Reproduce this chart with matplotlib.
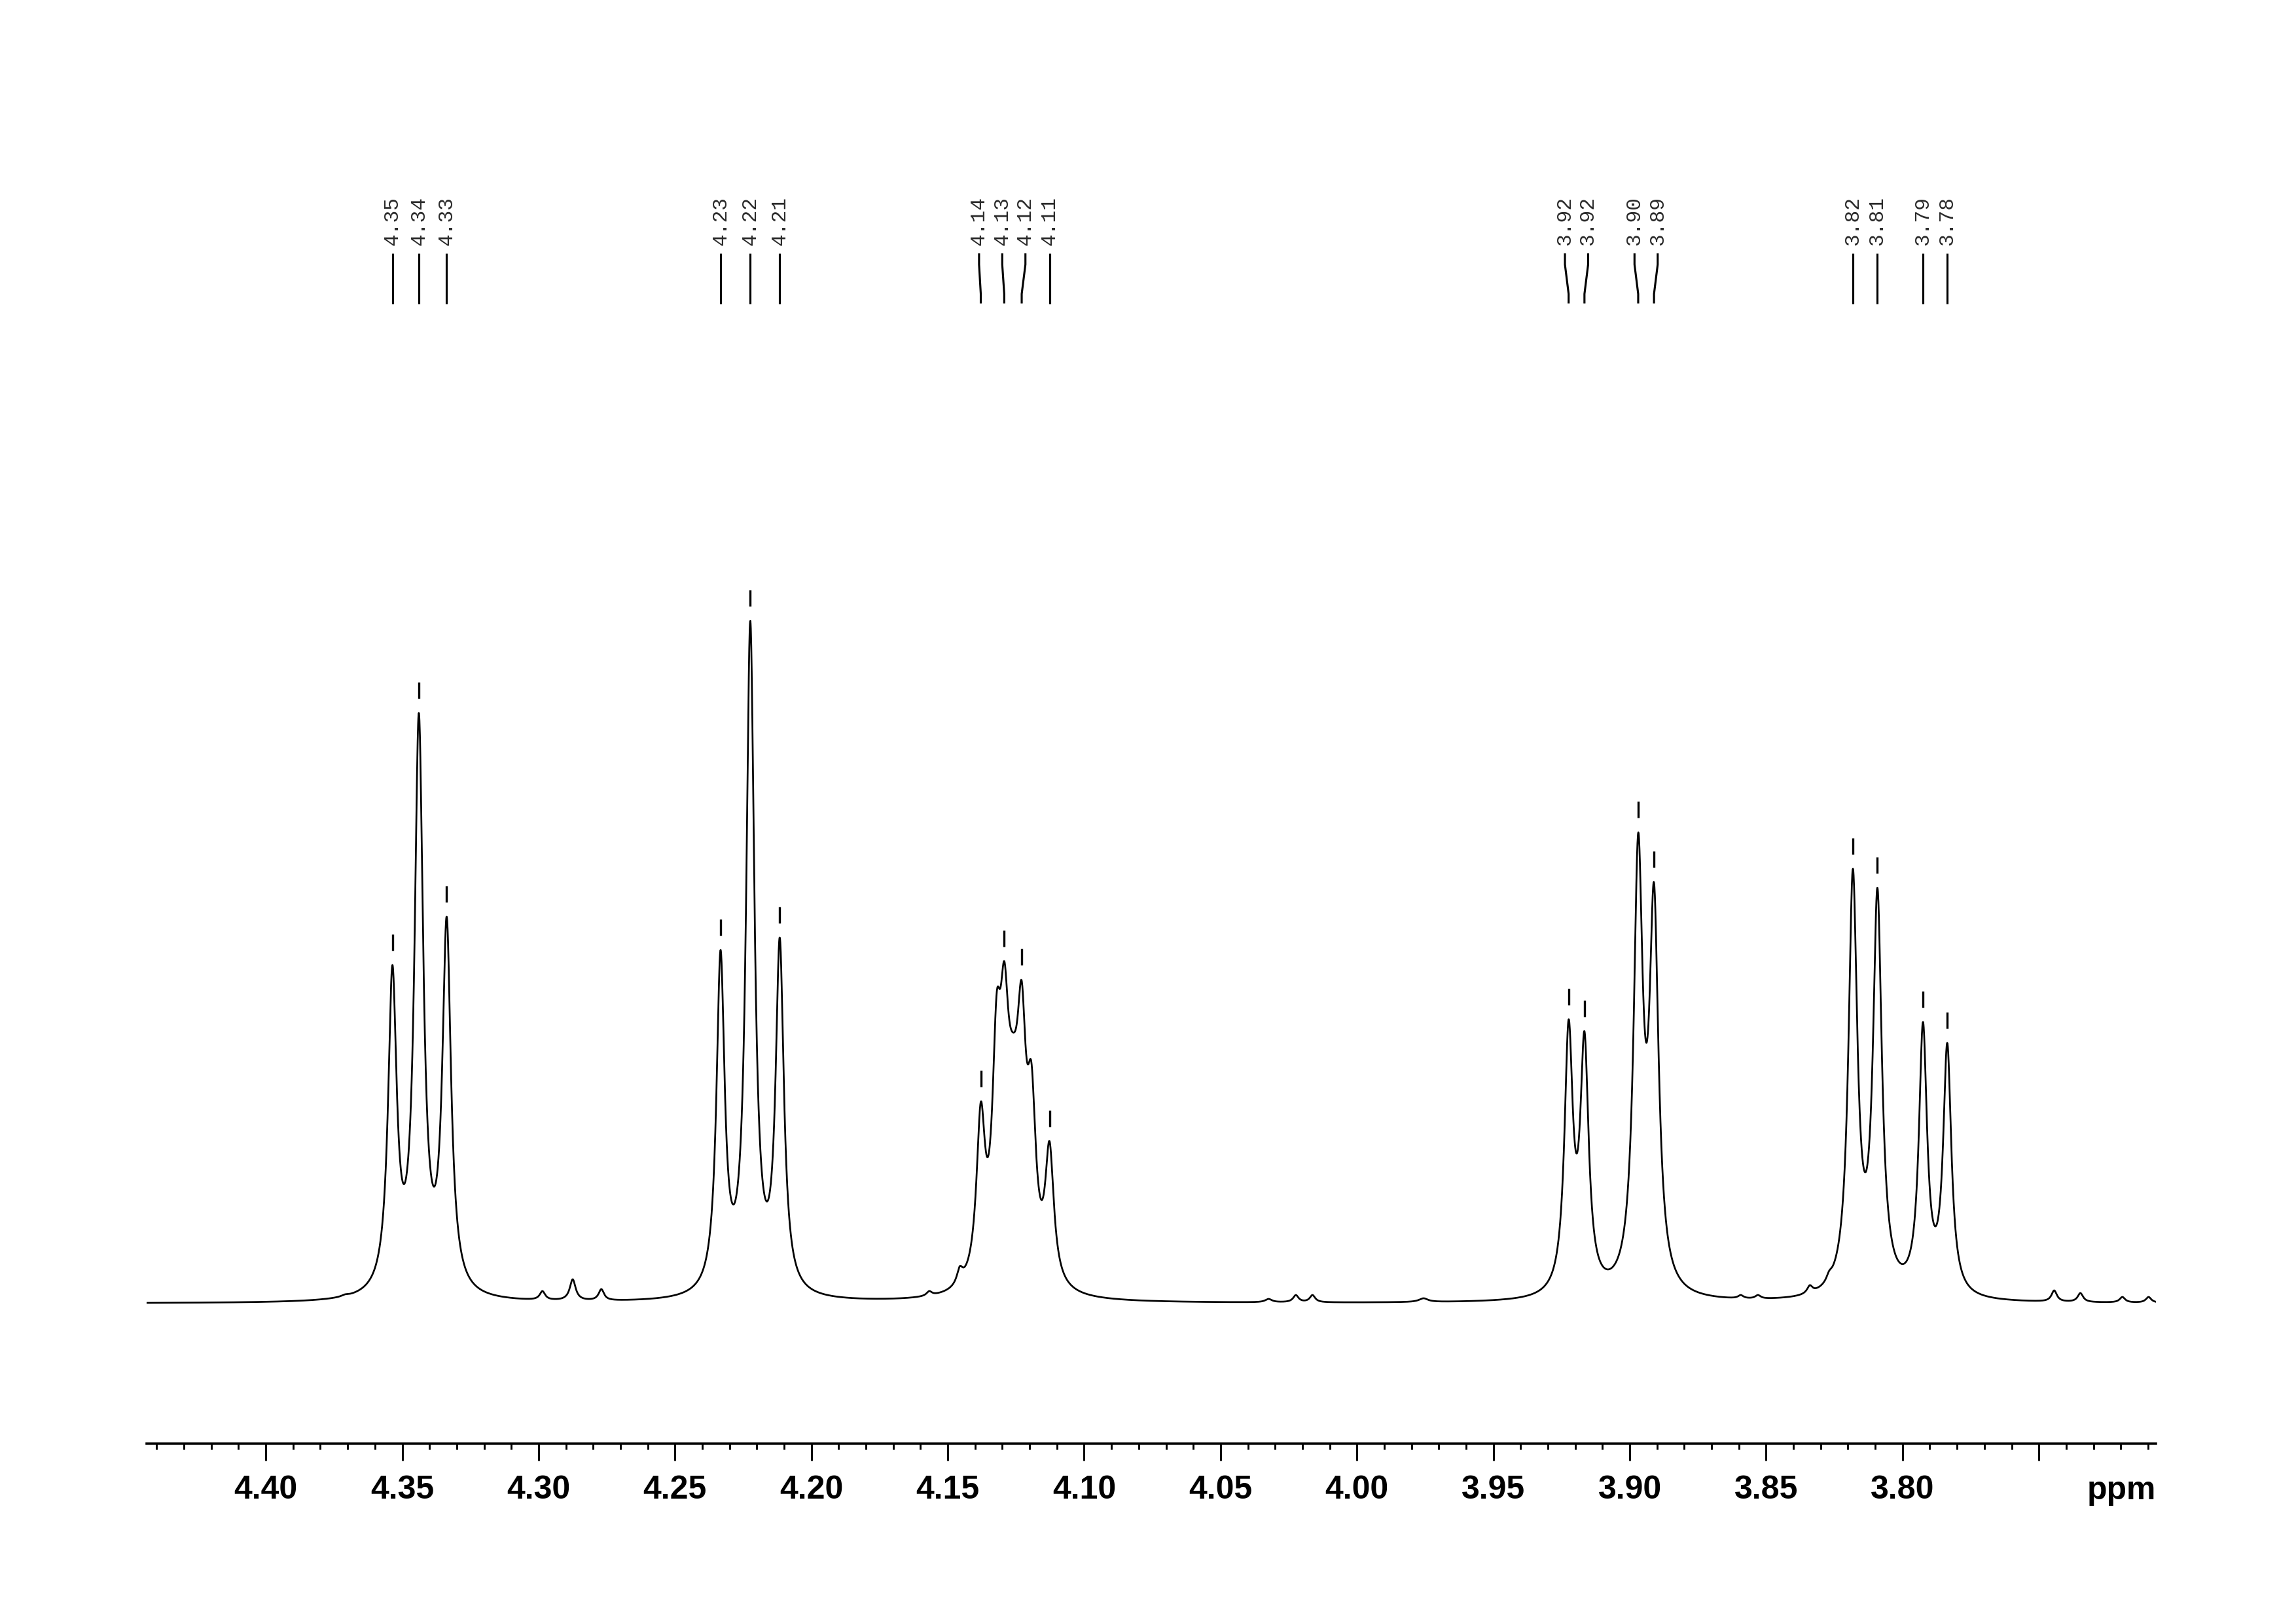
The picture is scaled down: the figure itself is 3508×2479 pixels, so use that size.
"""1H NMR spectrum excerpt (3.71 - 4.44 ppm) with peak picking labels."""

import matplotlib
import matplotlib.pyplot as plt
import numpy as np
from matplotlib.ticker import FuncFormatter, MultipleLocator

matplotlib.use("Agg")

# labelled (picked) peaks: shift, observed height above baseline, half width
peak_ppm = [4.3536, 4.3439, 4.3337, 4.2333, 4.2224, 4.2116,
            4.1379, 4.1293, 4.1229, 4.1127, 3.9224, 3.9166,
            3.8969, 3.8911, 3.8182, 3.8092, 3.7925, 3.7836]
peak_height = [517, 902, 591, 540, 1043, 559,
               308, 523, 493, 248, 434, 416,
               719, 643, 664, 635, 430, 398]
peak_hwhm = [0.0019, 0.0019, 0.0019, 0.0018, 0.0018, 0.0018,
             0.0019, 0.0019, 0.0019, 0.0019, 0.00185, 0.00185,
             0.0020, 0.0020, 0.00195, 0.00195, 0.0018, 0.0018]

# unlabelled shoulders, impurities and baseline ripples
extra_ppm = [4.3710, 4.2986, 4.2875, 4.2770, 4.1976, 4.1568, 4.1456,
             4.1321, 4.1261, 4.1193, 4.0806, 4.0324, 4.0224, 4.0163, 3.9756,
             3.8593, 3.8530, 3.8340, 3.8269, 3.7444, 3.7348, 3.7194, 3.7098]
extra_height = [14, 19, 37, 22, 8, 19, 57,
                473, 414, 367, 4, 7, 13, 13, 8,
                13, 13, 28, 50, 20, 16, 10, 10]
extra_hwhm = [0.0015, 0.0012, 0.0013, 0.0012, 0.0015, 0.0012, 0.0013,
              0.0019, 0.0035, 0.0019, 0.0020, 0.0015, 0.0012, 0.0012, 0.0020,
              0.0012, 0.0012, 0.0012, 0.0012, 0.0012, 0.0012, 0.0012, 0.0012]

PPM_LEFT, PPM_RIGHT = 4.4437, 3.7071
LABEL_GAP = 0.0085  # minimum label spacing in ppm


def lorentz(x, x0, hw):
    return 1.0 / (1.0 + ((x - x0) / hw) ** 2)


def spread_labels(pos, gap):
    """Spread label positions (descending ppm) so they are at least gap apart."""
    clusters = [[p] for p in pos]
    while True:
        placed = []
        for c in clusters:
            n = len(c)
            placed.append(np.mean(c) + gap * ((n - 1) / 2 - np.arange(n)))
        merged = False
        for i in range(len(clusters) - 1):
            if placed[i][-1] - placed[i + 1][0] < gap - 1e-9:
                clusters[i] = clusters[i] + clusters.pop(i + 1)
                merged = True
                break
        if not merged:
            return np.concatenate(placed)


all_ppm = np.array(peak_ppm + extra_ppm)
all_h = np.array(peak_height + extra_height, dtype=float)
all_hw = np.array(peak_hwhm + extra_hwhm)

# amplitudes such that the summed lineshape reproduces the observed heights
M = lorentz(all_ppm[:, None], all_ppm[None, :], all_hw[None, :])
amp = np.clip(np.linalg.solve(M, all_h), 0, None)

x = np.linspace(PPM_LEFT, PPM_RIGHT, 9000)
spec = (amp[None, :] * lorentz(x[:, None], all_ppm[None, :], all_hw[None, :])).sum(axis=1)

plt.rcParams["font.family"] = ["Liberation Sans", "DejaVu Sans"]

fig = plt.figure(figsize=(3508 / 300, 2479 / 300), dpi=300)
ax = fig.add_axes([224 / 3508, 1 - 2205 / 2479, 3070 / 3508, 2205 / 2479])
ax.set_xlim(PPM_LEFT, PPM_RIGHT)
ax.set_ylim(-217, 1988)

ax.plot(x, spec - 3, color="black", linewidth=0.65)

# peak markers and labels
label_x = spread_labels(peak_ppm, LABEL_GAP)
for p, lx in zip(peak_ppm, label_x):
    near = np.abs(x - p) < 0.0008
    top = spec[near].max() - 3
    ax.plot([p, p], [top + 22, top + 47], color="black", linewidth=0.8,
            solid_capstyle="butt")
    ax.plot([lx, lx, p, p], [1601, 1584, 1539, 1524.5], color="black",
            linewidth=0.75, solid_capstyle="butt")
    ax.text(lx, 1613, f"{p:.2f}", rotation=90, ha="center", va="bottom",
            fontsize=7.5, family=["Liberation Mono", "DejaVu Sans Mono"],
            color="#2a2a2a")

# ppm axis
for side in ("top", "left", "right"):
    ax.spines[side].set_visible(False)
ax.spines["bottom"].set_linewidth(0.85)
ax.set_yticks([])
ax.xaxis.set_major_locator(MultipleLocator(0.05))
ax.xaxis.set_minor_locator(MultipleLocator(0.01))
ax.xaxis.set_major_formatter(
    FuncFormatter(lambda v, _: "" if abs(v - 3.75) < 1e-6 else f"{v:.2f}"))
ax.tick_params(axis="x", which="major", direction="out", length=6.2,
               width=0.7, pad=5.3, labelsize=12)
ax.tick_params(axis="x", which="minor", direction="out", length=2.2,
               width=0.7)
for lab in ax.get_xticklabels():
    lab.set_fontweight("bold")

fig.text(3294 / 3508, 1 - 2290 / 2479, "ppm", ha="right", va="baseline",
         fontsize=12, fontweight="bold")

fig.savefig("out.png", dpi=300)
